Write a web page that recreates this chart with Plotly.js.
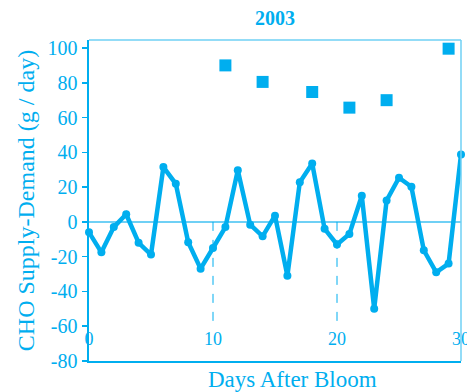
<!DOCTYPE html>
<html>
<head>
<meta charset="utf-8">
<script src="https://cdn.plot.ly/plotly-3.0.1.min.js"></script>
<style>html,body{margin:0;padding:0;background:#fff;}#chart{width:467px;height:392px;}</style>
</head>
<body>
<div id="chart"></div>
<script>
// Daily CHO supply-demand balance (line) and square markers
const days = [0,1,2,3,4,5,6,7,8,9,10,11,12,13,14,15,16,17,18,19,20,21,22,23,24,25,26,27,28,29,30];
const balance = [-6,-17.5,-3,4.4,-12,-18.8,31.5,21.9,-11.7,-26.9,-15,-3,29.7,-1.6,-8.3,3.6,-31,22.8,33.6,-4,-13,-7,15,-50,12.3,25.4,20.2,-16.3,-29,-24,38.8];
const squareDays = [11,14,18,21,24,29];
const squareValues = [90,80.5,74.7,65.7,70,99.6];
const xTicks = [0,10,20,30];
const yTicks = [-80,-60,-40,-20,0,20,40,60,80,100];
const refDays = [10,20];

const cyan = '#00aeef';
const light = '#6fd0f5';
const font = 'Liberation Serif, Times New Roman, serif';

const data = [
  {x: days, y: balance, type: 'scatter', mode: 'lines+markers',
   line: {color: cyan, width: 4.5}, marker: {color: cyan, size: 8}, cliponaxis: false, hoverinfo: 'none'},
  {x: squareDays, y: squareValues, type: 'scatter', mode: 'markers', xaxis: 'x2',
   marker: {color: cyan, size: 12, symbol: 'square'}, cliponaxis: false, hoverinfo: 'none'}
];

const shapes = refDays.map(d => ({type: 'line', xref: 'x', yref: 'y', x0: d, x1: d, y0: 0, y1: -58,
  line: {color: cyan, width: 1, dash: 'dash'}}));
shapes.push({type: 'line', xref: 'paper', yref: 'paper', x0: 0, x1: 1, y0: 1, y1: 1, line: {color: light, width: 1.5}});
shapes.push({type: 'line', xref: 'paper', yref: 'paper', x0: 1, x1: 1, y0: 0, y1: 1, line: {color: light, width: 1.5}});

const layout = {
  width: 467, height: 392,
  margin: {l: 89, r: 6, t: 40, b: 31},
  paper_bgcolor: '#fff', plot_bgcolor: '#fff',
  showlegend: false,
  font: {family: font, color: cyan},
  title: {text: '<b>2003</b>', x: 0.589, xanchor: 'center', y: 0.955, yanchor: 'middle', font: {size: 20, color: cyan, family: font}},
  xaxis: {range: [0, 30], showticklabels: false, showgrid: false, zeroline: false,
    showline: true, linecolor: cyan, linewidth: 2, ticks: ''},
  xaxis2: {range: [0, 30], overlaying: 'x', anchor: 'free', position: 0.11, side: 'bottom',
    tickvals: xTicks, ticktext: xTicks.map(String), showgrid: false, zeroline: false, showline: false, ticks: '',
    ticklabeloverflow: 'allow',
    tickfont: {size: 18, color: cyan, family: font}},
  yaxis: {range: [-80, 104.6], tickvals: yTicks, ticktext: yTicks.map(String), showgrid: false,
    zeroline: true, zerolinecolor: light, zerolinewidth: 1.5,
    showline: true, linecolor: cyan, linewidth: 2.5, ticks: 'outside', ticklen: 5, tickcolor: cyan, tickwidth: 1.5,
    tickfont: {size: 20, color: cyan, family: font},
    title: {text: 'CHO Supply-Demand (g / day)', font: {size: 24, color: cyan, family: font}, standoff: 6}},
  annotations: [{text: 'Days After Bloom', xref: 'paper', yref: 'paper', x: 0.548, y: -0.059,
    xanchor: 'center', yanchor: 'middle', showarrow: false, font: {size: 23, color: cyan, family: font}}],
  shapes: shapes
};

Plotly.newPlot('chart', data, layout, {staticPlot: true, displayModeBar: false});
</script>
</body>
</html>
